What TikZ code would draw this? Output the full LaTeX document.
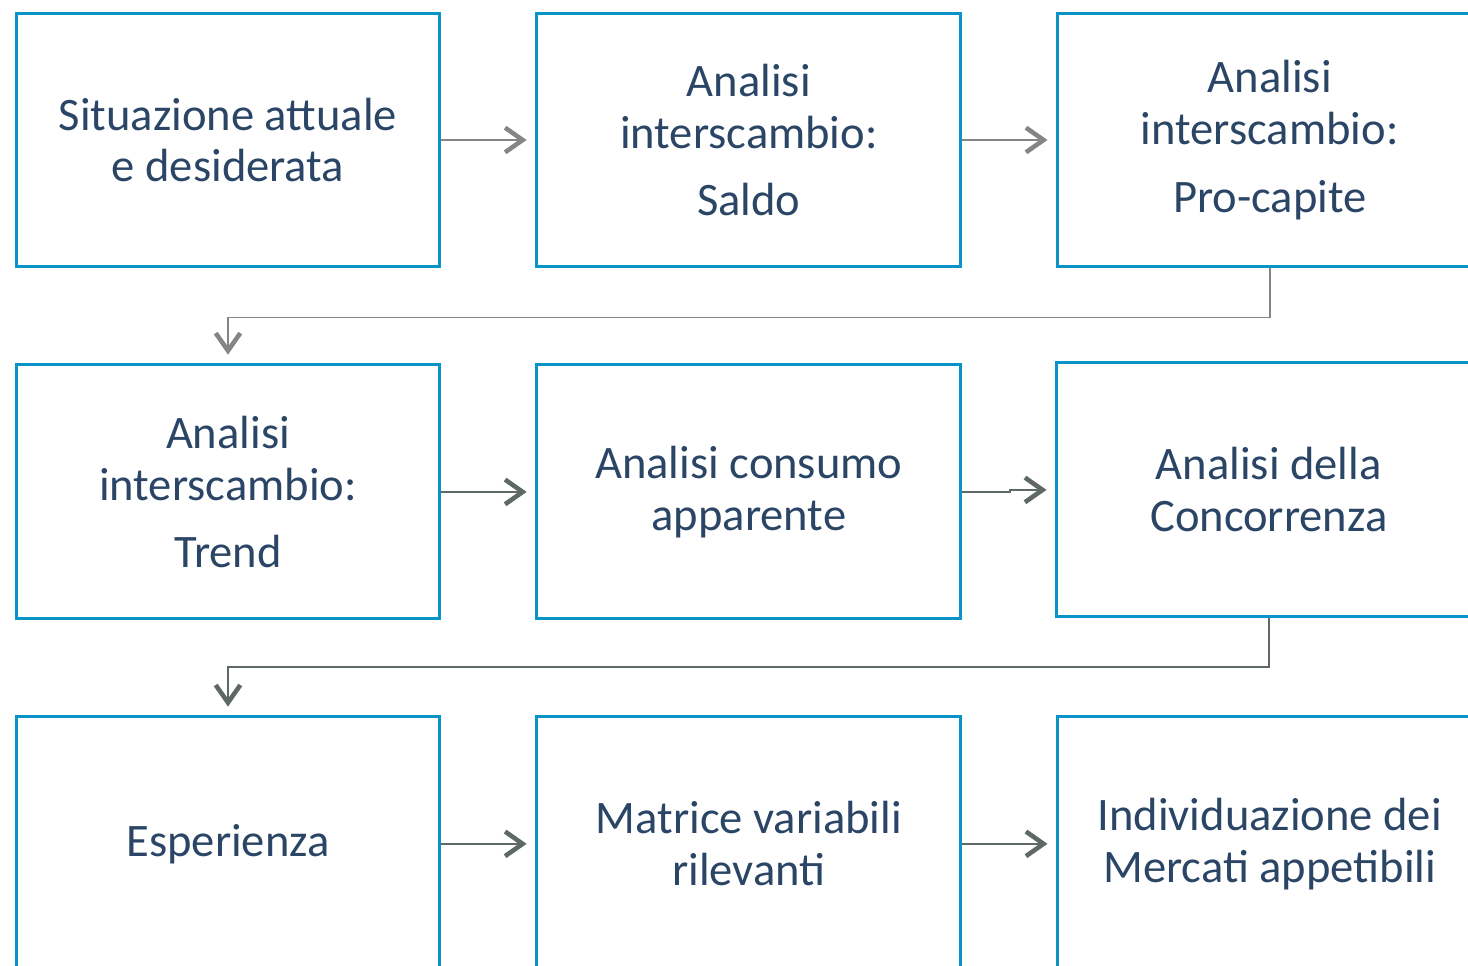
\documentclass[tikz,border=0pt]{standalone}
\usepackage{fontspec}
\setmainfont{Carlito}
\usetikzlibrary{arrows.meta,positioning}
\definecolor{boxblue}{HTML}{0A93C6}
\definecolor{txtnavy}{HTML}{2A4565}
\definecolor{flowlight}{HTML}{858585}
\definecolor{flowdark}{HTML}{5E6864}

\begin{document}
\begin{tikzpicture}[x=0.02cm,y=0.02cm,
    stage/.style={draw=boxblue, line width=1.7pt, minimum width=8.48cm,
      minimum height=5.08cm, inner sep=0pt, align=center, text=txtnavy,
      font=\fontsize{26.5}{29.5}\selectfont},
    flow/.style={draw=flowlight, line width=1.1pt,
      -{Straight Barb[length=10pt,width=14pt,line width=2.6pt]},
      shorten >=5pt},
    flowd/.style={flow, draw=flowdark},
    node distance=1.9cm and 1.88cm]
  \path[use as bounding box, clip] (0,0) rectangle (1468,-966);
  % first row
  \node[stage] (sit) at (228,-140) {Situazione attuale\\e desiderata};
  \node[stage] (saldo) [right=of sit] {Analisi\\interscambio:\\[9pt]Saldo};
  \node[stage] (proc) [right=of saldo] {Analisi\\interscambio:\\[9pt]Pro-capite};
  % second row
  \node[stage] (trend) [below=of sit] {Analisi\\interscambio:\\[9pt]Trend};
  \node[stage] (cons) [right=of trend] {Analisi consumo\\apparente};
  \node[stage] (conc) [right=1.86cm of cons, yshift=0.04cm] {Analisi della\\Concorrenza};
  % third row
  \node[stage] (esp) [below=of trend] {Esperienza};
  \node[stage] (matr) [right=of esp] {Matrice variabili\\rilevanti};
  \node[stage] (merc) [right=of matr] {Individuazione dei\\Mercati appetibili};
  % connectors
  \path (sit) edge[flow] (saldo)
    (saldo) edge[flow] (proc)
    (trend) edge[flowd] (cons)
    (esp) edge[flowd] (matr)
    (matr) edge[flowd] (merc);
  \draw[flowd] (cons.east) -- ++(48,0) |- (conc.west);
  \draw[flow] (proc.south) -- ++(0,-49) -| (trend.north);
  \draw[flowd] (conc.south) -- ++(0,-49) -| (esp.north);
\end{tikzpicture}
\end{document}
